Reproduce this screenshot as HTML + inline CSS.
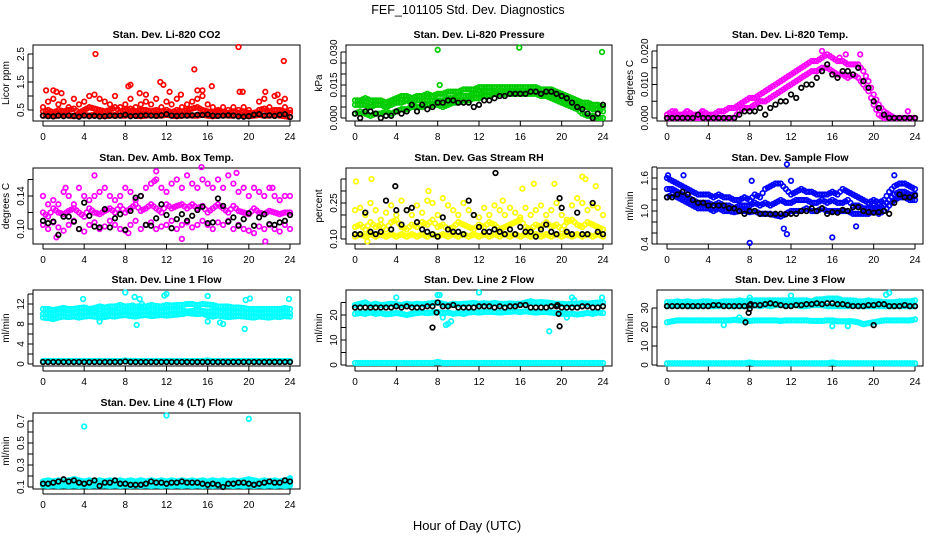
<!DOCTYPE html>
<html><head><meta charset="utf-8"><style>
html,body{margin:0;padding:0;background:#fff;}
svg{display:block;font-family:"Liberation Sans",Arial,sans-serif;}
</style></head><body>
<svg id="chart" width="936" height="540" viewBox="0 0 936 540" xmlns="http://www.w3.org/2000/svg">
<rect x="0" y="0" width="936" height="540" fill="#fff"/>
<text x="468" y="14" font-size="12.5" text-anchor="middle">FEF_101105  Std. Dev. Diagnostics</text>
<text x="467" y="530" font-size="13" text-anchor="middle">Hour of Day (UTC)</text>
<g id="panels"></g>
</svg>
<script>
const hours=[0,0.5,1,1.5,2,2.5,3,3.5,4,4.5,5,5.5,6,6.5,7,7.5,8,8.5,9,9.5,10,10.5,11,11.5,12,12.5,13,13.5,14,14.5,15,15.5,16,16.5,17,17.5,18,18.5,19,19.5,20,20.5,21,21.5,22,22.5,23,23.5,24];
const xTickLabels=[0,4,8,12,16,20,24];

const co2Hi=[0.6,0.8,0.9,0.7,0.8,0.6,0.9,0.7,0.8,1.0,1.05,0.9,0.8,0.7,1.0,0.6,0.7,0.9,0.6,0.7,0.8,0.7,0.9,0.6,0.8,0.7,0.9,0.6,0.7,0.8,0.9,1.0,0.7,0.6,0.5,0.6,0.5,0.6,0.5,0.6,0.5,0.4,0.8,0.9,0.6,1.0,0.8,0.6,0.5];
const co2Mid=[0.45,0.5,0.4,0.5,0.45,0.5,0.55,0.4,0.5,0.6,0.55,0.5,0.45,0.5,0.6,0.45,0.5,0.55,0.45,0.5,0.5,0.45,0.5,0.45,0.5,0.4,0.5,0.45,0.5,0.55,0.6,0.5,0.45,0.4,0.45,0.4,0.4,0.45,0.4,0.45,0.4,0.35,0.5,0.55,0.45,0.5,0.5,0.45,0.4];
const co2Lo=[0.3,0.32,0.28,0.3,0.33,0.3,0.28,0.3,0.32,0.3,0.33,0.3,0.28,0.3,0.32,0.3,0.3,0.33,0.3,0.28,0.3,0.32,0.3,0.3,0.33,0.3,0.28,0.3,0.32,0.3,0.3,0.33,0.3,0.28,0.3,0.32,0.3,0.3,0.33,0.3,0.28,0.3,0.32,0.3,0.3,0.33,0.3,0.28,0.25];
const co2Black=[0.3,0.28,0.27,0.3,0.28,0.3,0.29,0.26,0.3,0.28,0.29,0.27,0.28,0.3,0.29,0.3,0.33,0.28,0.29,0.3,0.31,0.3,0.29,0.31,0.35,0.3,0.29,0.3,0.3,0.31,0.33,0.32,0.34,0.3,0.29,0.3,0.31,0.3,0.27,0.26,0.28,0.33,0.35,0.3,0.31,0.29,0.33,0.35,0.25];
const co2Out=[[5.1,2.5],[19,2.75],[23.4,2.25],[14.7,1.95],[11.4,1.5],[8.5,1.4],[8.3,1.35],[16.4,1.35],[11.7,1.4],[15,1.2],[15.5,1.2],[19.1,1.15],[19.4,1.15],[0.3,1.2],[1,1.2],[1.3,1.15],[1.8,1.1],[9.4,1.1],[10,1.05],[12.3,1.15],[13.4,1.05],[21.6,1.15],[22.8,1.05],[23.5,0.9]];

const presHi=[0.008,0.008,0.009,0.008,0.008,0.008,0.007,0.008,0.009,0.010,0.010,0.009,0.010,0.010,0.011,0.010,0.011,0.011,0.012,0.012,0.012,0.013,0.013,0.013,0.014,0.014,0.014,0.014,0.014,0.014,0.014,0.014,0.014,0.014,0.014,0.014,0.013,0.013,0.013,0.012,0.011,0.010,0.009,0.008,0.007,0.007,0.006,0.006,0.005];
const presMid=[0.006,0.006,0.006,0.005,0.006,0.006,0.005,0.006,0.007,0.007,0.008,0.007,0.008,0.008,0.008,0.008,0.008,0.008,0.009,0.009,0.010,0.010,0.010,0.011,0.011,0.012,0.012,0.012,0.012,0.012,0.012,0.012,0.012,0.012,0.012,0.012,0.011,0.011,0.011,0.010,0.009,0.008,0.007,0.006,0.005,0.005,0.004,0.004,0.003];
const presLo=[0.002,0.003,0.002,0.001,0.002,0.002,0.003,0.002,0.003,0.004,0.004,0.005,0.005,0.005,0.006,0.006,0.006,0.005,0.006,0.007,0.007,0.008,0.008,0.009,0.009,0.010,0.010,0.011,0.011,0.011,0.011,0.011,0.011,0.011,0.011,0.011,0.010,0.010,0.009,0.008,0.007,0.006,0.005,0.004,0.002,0.001,0.001,0.000,0.000];
const presBlack=[0.002,0.000,0.003,0.003,0.002,0.000,0.001,0.001,0.003,0.002,0.003,0.006,0.003,0.006,0.004,0.005,0.007,0.007,0.008,0.008,0.007,0.007,0.007,0.005,0.006,0.008,0.008,0.009,0.010,0.010,0.011,0.011,0.011,0.011,0.012,0.012,0.011,0.012,0.012,0.011,0.010,0.009,0.007,0.005,0.004,0.002,0.000,0.002,0.006];
const presOut=[[8,0.031],[15.9,0.032],[23.9,0.030],[8.2,0.015]];

const tempHi=[0.001,0.002,0.001,0.001,0.002,0.001,0.001,0.002,0.001,0.001,0.002,0.002,0.003,0.003,0.004,0.005,0.006,0.006,0.007,0.008,0.009,0.010,0.011,0.012,0.013,0.014,0.015,0.016,0.017,0.017,0.018,0.019,0.018,0.017,0.017,0.016,0.016,0.016,0.014,0.011,0.007,0.004,0.002,0.001,0,0,0,0,0];
const tempLo=[0,0,0,0,0,0,0,0,0,0,0,0,0,0,0.002,0.003,0.003,0.004,0.005,0.005,0.006,0.007,0.008,0.009,0.010,0.011,0.012,0.013,0.014,0.014,0.015,0.015,0.014,0.013,0.013,0.012,0.013,0.012,0.010,0.008,0.004,0.001,0,0,0,0,0,0,0];
const tempBlack=[0,0,0,0,0,0,0.001,0,0,0,0,0,0,0,0.001,0.002,0.002,0.002,0.003,0.001,0.003,0.004,0.005,0.005,0.007,0.006,0.009,0.010,0.010,0.012,0.014,0.016,0.013,0.012,0.014,0.014,0.013,0.015,0.011,0.009,0.005,0.003,0.001,0,0,0,0,0,0];
const tempOut=[[15,0.02],[17.3,0.019],[18.7,0.019],[16.7,0.018],[3.4,0.002],[0.8,0.002],[1.9,0.002],[23.3,0.002]];

const ambHi=[0.14,0.13,0.135,0.13,0.145,0.14,0.13,0.15,0.14,0.135,0.14,0.145,0.15,0.14,0.135,0.14,0.15,0.145,0.135,0.14,0.15,0.155,0.16,0.15,0.145,0.155,0.16,0.15,0.165,0.155,0.15,0.16,0.155,0.15,0.16,0.15,0.165,0.155,0.145,0.15,0.14,0.15,0.145,0.14,0.15,0.14,0.135,0.14,0.14];
const ambMid=[0.12,0.115,0.125,0.12,0.118,0.122,0.125,0.12,0.115,0.125,0.12,0.118,0.122,0.125,0.12,0.128,0.12,0.125,0.13,0.122,0.125,0.13,0.125,0.12,0.13,0.125,0.128,0.13,0.125,0.13,0.125,0.128,0.12,0.125,0.13,0.125,0.12,0.128,0.122,0.12,0.118,0.125,0.12,0.118,0.122,0.12,0.118,0.12,0.12];
const ambLo=[0.105,0.1,0.108,0.102,0.098,0.105,0.11,0.1,0.097,0.105,0.108,0.1,0.103,0.11,0.105,0.1,0.098,0.105,0.11,0.1,0.105,0.108,0.1,0.103,0.105,0.11,0.1,0.105,0.108,0.102,0.105,0.11,0.105,0.1,0.108,0.105,0.11,0.1,0.105,0.1,0.098,0.095,0.103,0.1,0.105,0.1,0.097,0.105,0.1];
const ambBlack=[0.11,0.107,0.109,0.093,0.115,0.115,0.109,0.1,0.132,0.116,0.103,0.102,0.124,0.102,0.113,0.118,0.099,0.122,0.138,0.14,0.105,0.104,0.113,0.13,0.117,0.101,0.112,0.118,0.11,0.116,0.123,0.127,0.107,0.108,0.137,0.128,0.109,0.114,0.104,0.112,0.119,0.104,0.114,0.118,0.106,0.105,0.108,0.11,0.117];
const ambOut=[[5,0.165],[2.2,0.15],[13.5,0.088],[21.6,0.085],[15.4,0.175],[11,0.17],[22.3,0.15],[1.3,0.09],[8.3,0.095],[18.8,0.168],[10.8,0.158]];

const rhHi=[0.22,0.23,0.2,0.25,0.22,0.18,0.21,0.24,0.2,0.26,0.22,0.2,0.24,0.21,0.26,0.25,0.2,0.27,0.24,0.22,0.2,0.25,0.22,0.2,0.19,0.23,0.2,0.24,0.22,0.2,0.23,0.21,0.19,0.23,0.2,0.22,0.24,0.2,0.22,0.25,0.2,0.18,0.24,0.27,0.25,0.22,0.24,0.23,0.2];
const rhMid=[0.15,0.16,0.14,0.17,0.15,0.16,0.14,0.17,0.18,0.15,0.14,0.16,0.15,0.17,0.16,0.18,0.15,0.16,0.14,0.15,0.17,0.16,0.15,0.14,0.16,0.15,0.17,0.16,0.14,0.15,0.16,0.17,0.18,0.15,0.14,0.16,0.15,0.17,0.15,0.16,0.14,0.17,0.18,0.16,0.15,0.17,0.16,0.15,0.14];
const rhLo=[0.11,0.12,0.11,0.12,0.11,0.12,0.11,0.12,0.11,0.12,0.11,0.12,0.11,0.12,0.11,0.12,0.11,0.12,0.11,0.12,0.11,0.12,0.11,0.12,0.11,0.12,0.11,0.12,0.11,0.12,0.11,0.12,0.11,0.12,0.11,0.12,0.11,0.12,0.11,0.12,0.11,0.12,0.11,0.12,0.11,0.12,0.11,0.12,0.11];
const rhBlack=[0.12,0.12,0.21,0.13,0.12,0.13,0.26,0.14,0.22,0.16,0.22,0.23,0.17,0.14,0.13,0.12,0.11,0.19,0.14,0.13,0.13,0.12,0.26,0.2,0.15,0.13,0.13,0.14,0.13,0.12,0.14,0.12,0.15,0.13,0.13,0.11,0.14,0.16,0.13,0.12,0.23,0.13,0.12,0.21,0.12,0.12,0.25,0.13,0.12];
const rhOut=[[0.1,0.34],[1.6,0.35],[7.1,0.30],[17.3,0.33],[19.3,0.33],[22,0.36],[22.3,0.35],[23.3,0.32],[16.2,0.31],[14.3,0.26],[1.2,0.09]];
const rhBlackOut=[[13.6,0.375],[3.9,0.32],[19.8,0.27]];

const flowHi=[1.6,1.55,1.5,1.45,1.4,1.35,1.3,1.3,1.3,1.25,1.3,1.25,1.25,1.2,1.2,1.25,1.2,1.3,1.25,1.4,1.45,1.5,1.5,1.4,1.3,1.35,1.4,1.35,1.35,1.3,1.3,1.3,1.35,1.3,1.4,1.35,1.3,1.25,1.2,1.15,1.2,1.15,1.2,1.35,1.45,1.5,1.5,1.45,1.4];
const flowMid=[1.4,1.4,1.35,1.3,1.25,1.2,1.15,1.15,1.15,1.1,1.15,1.1,1.1,1.05,1.1,1.1,1.1,1.15,1.1,1.15,1.1,1.15,1.2,1.15,1.15,1.2,1.2,1.2,1.15,1.15,1.2,1.15,1.2,1.15,1.15,1.2,1.1,1.1,1.05,1.05,1.1,1.05,1.1,1.2,1.3,1.35,1.35,1.3,1.3];
const flowLo=[1.25,1.3,1.25,1.2,1.15,1.1,1.05,1.05,1.05,1.0,1.05,1.0,1.0,0.98,1.0,1.0,0.98,1.0,0.95,0.95,0.95,0.92,0.9,0.95,1.0,1.0,1.0,1.05,1.0,1.0,1.05,1.0,1.0,1.0,1.0,1.0,0.95,0.95,0.95,0.95,1.0,0.95,1.0,1.1,1.2,1.25,1.25,1.2,1.2];
const flowBlack=[1.25,1.25,1.3,1.35,1.3,1.2,1.15,1.15,1.1,1.1,1.1,1.1,1.05,1.05,1.0,0.95,1.0,1.0,0.95,0.95,0.94,0.95,0.95,0.94,0.95,0.95,1.0,1.0,1.05,1.0,1.05,0.95,0.98,0.97,1.02,1.0,1.07,1.07,1.0,0.98,0.97,0.98,1.0,0.95,1.15,1.3,1.25,1.25,1.28];
const flowOut=[[8,0.42],[16,0.52],[11.6,1.85],[11.6,0.58],[11.3,0.68],[12,1.55],[8.2,1.55],[18.3,0.72],[22,1.65],[0.1,1.65],[1.6,1.65]];

const l1Hi=[11,11,10.8,11,11.2,11,11,11.2,11.3,11,11.2,11.5,11.3,11.5,11.5,11.8,11.5,11.6,11.5,11.5,11.5,11.8,11.6,11.5,11.8,11.7,11.8,11.8,12,12,11.8,12,11.9,11.8,11.5,11.5,11.5,11.3,11.3,11.2,11,11,11,11,11,11,11,11.2,11];
const l1Mid=[10,10.2,10,10.3,10.2,10,10.2,10.5,10.3,10.5,10.6,10.2,10.5,10.8,10.3,10.5,10.8,10.5,10.7,10.6,10.5,10.8,10.6,10.5,10.6,10.7,10.8,10.7,10.5,10.6,10.8,10.6,10.5,10.6,10.4,10.3,10.5,10.3,10.4,10.3,10.2,10.3,10.1,10.2,10.3,10.1,10.2,10.2,10.1];
const l1Lo=[9.3,9.2,9.0,9.3,9.5,9.4,9.5,9.3,9.5,9.6,9.5,9.3,9.4,9.6,9.5,9.7,9.8,9.6,9.5,9.7,9.8,9.6,9.7,9.8,9.7,9.8,9.9,10,10.2,10.1,10,10.1,9.7,9.5,9.7,9.5,9.4,9.5,9.6,9.5,9.4,9.3,9.5,9.4,9.3,9.5,9.4,9.6,9.5];
const l1Base=[0.6,0.6,0.6,0.6,0.6,0.6,0.6,0.6,0.6,0.6,0.6,0.6,0.6,0.6,0.6,0.6,0.7,0.6,0.6,0.6,0.6,0.6,0.6,0.6,0.6,0.6,0.6,0.6,0.6,0.6,0.6,0.6,0.7,0.6,0.6,0.6,0.6,0.6,0.6,0.6,0.6,0.6,0.6,0.6,0.6,0.6,0.6,0.6,0.6];
const l1Black=[0.4,0.4,0.4,0.4,0.4,0.4,0.4,0.4,0.4,0.4,0.4,0.4,0.4,0.4,0.4,0.4,0.5,0.4,0.4,0.4,0.4,0.4,0.4,0.4,0.4,0.4,0.4,0.4,0.4,0.4,0.4,0.4,0.4,0.4,0.4,0.4,0.4,0.4,0.4,0.4,0.4,0.4,0.4,0.4,0.4,0.4,0.4,0.4,0.4];
const l1Out=[[8,14.3],[3.9,13],[8.9,13.4],[9.4,13],[12,14],[11.8,13.7],[16,13.6],[19.7,12.8],[20.1,13.1],[23.9,13],[9.2,11.5],[8.7,11.7],[9.1,7.8],[5.5,8.5],[16,8.5],[17.2,8.3],[17.5,8],[19.6,7],[9.6,12]];

const l2Hi=[24,24.5,25,24,24.5,24,24.2,24.5,24.3,24,24.5,24.2,24.5,24.3,24.5,24.8,25,24.5,24,24.5,24.3,24.5,24.6,24.8,24.5,24.7,24.5,24.8,24.5,24.5,24.6,24.5,24.5,25,25.5,25,25.2,25,24.8,24.5,24.5,24.3,24.5,24.5,24.8,24.5,24.8,25,25];
const l2Lo=[20.5,20.8,20.5,21,20.5,20.8,20.3,20.5,20.8,20.5,20,20.5,20.8,21,20.8,21,21.2,20.8,21,20.5,20.8,20.5,21,21.2,21,21.2,21.3,21.2,21,21.2,21.3,21.5,21.2,21.5,21.2,21,21.2,21.2,21,20.8,20.8,20.5,20.5,20.2,20.5,20.8,20.5,21,20.8];
const l2Base=[0.8,0.8,0.8,0.8,0.8,0.8,0.8,0.8,0.8,0.8,0.8,0.8,0.8,0.8,0.8,0.8,1.2,0.8,0.8,0.8,0.8,0.8,0.8,0.8,0.8,0.8,0.8,0.8,0.8,0.8,0.8,0.8,0.8,0.8,0.8,0.8,0.8,0.8,0.8,0.8,0.8,0.8,0.8,0.8,0.8,0.8,0.8,0.8,0.8];
const l2Black=[23,23,23,23,23,23,23,23,23.5,23,23.5,23,23,23,23.5,23.5,25,23.5,23.5,24,23,23,23,23,23.5,23.5,23.5,23,23.5,23,23.5,23.5,24,24,23,23,23,23,23.5,23.5,23,23,23,23,23.5,23.5,23,23,23.5];
const l2Out=[[4,27],[8,28],[8.2,28],[12,29],[20,20.5],[21,27],[21.2,26],[23.9,27],[8.8,16],[9,16.5],[9.3,17.5],[18.8,13.5],[20.5,19],[8.5,19]];
const l2BlackOut=[[7.5,15],[7.9,21],[19.8,15.5],[19.7,20.5],[19.6,24]];

const l3Hi=[33,33,33.5,33,33.5,33,33,33.5,33.5,33,33,33.5,33.5,33.5,34,33.5,34,34,34,34,34,34,34,34,34,34,34,34,33.5,34.5,34.5,35,35,35,34,34,34,33.5,33.5,34,33.5,33.5,33,33,33,33.5,33.5,33.5,34];
const l3Mid=[31,31.5,31,31.5,31,31,31,31.5,31,31,31,31.5,31,31,31,31,31,31.5,31,31.5,31,31.5,31.5,31.5,31.5,31.5,31,31,31.5,31.5,31.5,31,31,31,31,31,31.5,31,31,31,31,31,31,31,31,31,31,31,31];
const l3Lo=[22.5,23,23.5,23.5,23.5,23.5,23.5,23.5,23.5,23.5,23.5,23.5,23.5,23.8,23.5,23.5,23.2,23.5,23.5,23.5,23.5,23.5,23.2,23.5,23.5,23.5,23.5,23.5,23.2,23.2,23.2,23.5,23.5,23,23,23,23,22.5,21.5,22,22.5,23,23.5,23.5,23.5,23.5,23.5,23.5,24];
const l3Base=[0.9,0.9,0.9,0.9,0.9,0.9,0.9,0.9,0.9,0.9,0.9,0.9,0.9,0.9,0.9,0.9,1.3,0.9,0.9,0.9,0.9,0.9,0.9,0.9,0.9,0.9,0.9,0.9,0.9,0.9,0.9,0.9,1.3,0.9,0.9,0.9,0.9,0.9,0.9,0.9,0.9,0.9,0.9,0.9,0.9,0.9,0.9,0.9,0.9];
const l3Black=[31,31,31,31,31,31,31,31,31,31.5,31.5,31,31,31,31,31,31.5,31.5,31.5,32,32.5,32,31.5,31,31,31.5,31.5,32,32,32.5,32,32.5,32.5,32,32,31.5,31,31,31,31.5,31.5,32,32,31,31,31,31.5,31,31];
const l3Out=[[8,35.5],[12,36.5],[21.2,37],[21.5,38],[5.5,21],[7,25],[16,20.5],[17.7,23],[17.5,20.5]];
const l3BlackOut=[[7.6,22.5],[7.9,27.5],[8,29.5],[20,21],[8.1,32]];

const l4Hi=[0.15,0.16,0.15,0.16,0.15,0.16,0.17,0.16,0.15,0.16,0.15,0.16,0.15,0.16,0.15,0.16,0.15,0.16,0.15,0.16,0.15,0.16,0.15,0.16,0.15,0.16,0.15,0.16,0.15,0.16,0.15,0.16,0.15,0.16,0.15,0.16,0.15,0.16,0.15,0.16,0.17,0.16,0.15,0.16,0.15,0.16,0.15,0.16,0.17];
const l4Mid=[0.13,0.12,0.13,0.12,0.13,0.12,0.13,0.12,0.13,0.12,0.13,0.12,0.13,0.12,0.13,0.12,0.13,0.12,0.13,0.12,0.13,0.12,0.13,0.12,0.13,0.12,0.13,0.12,0.13,0.12,0.13,0.12,0.13,0.12,0.13,0.12,0.13,0.12,0.13,0.12,0.13,0.12,0.13,0.12,0.13,0.12,0.13,0.12,0.13];
const l4Lo=[0.115,0.11,0.115,0.11,0.115,0.11,0.115,0.11,0.115,0.11,0.115,0.11,0.115,0.11,0.115,0.11,0.115,0.11,0.115,0.11,0.115,0.11,0.115,0.11,0.115,0.11,0.115,0.11,0.115,0.11,0.115,0.11,0.115,0.11,0.115,0.11,0.115,0.11,0.115,0.11,0.115,0.11,0.115,0.11,0.115,0.11,0.115,0.11,0.115];
const l4Black=[0.13,0.13,0.14,0.15,0.17,0.15,0.16,0.14,0.13,0.14,0.16,0.11,0.14,0.14,0.16,0.13,0.13,0.12,0.12,0.12,0.13,0.15,0.14,0.14,0.13,0.14,0.14,0.15,0.14,0.14,0.14,0.13,0.12,0.13,0.12,0.10,0.13,0.13,0.14,0.14,0.13,0.12,0.13,0.14,0.15,0.14,0.14,0.16,0.15];
const l4Out=[[4,0.65],[12,0.75],[20,0.72],[3.1,0.17],[24,0.18]];

const NS="http://www.w3.org/2000/svg";
const root=document.getElementById('panels');
function mk(tag,attrs,parent){const e=document.createElementNS(NS,tag);for(const k in attrs)e.setAttribute(k,attrs[k]);(parent||root).appendChild(e);return e;}

const cols=[{bl:33,br:300,x0:43,x24:290},{bl:346,br:612,x0:355,x24:603},{bl:657,br:923,x0:667,x24:915}];
const rows=[{bt:45,bb:121},{bt:168,bb:244},{bt:290,bb:366},{bt:413,bb:489}];

function panel(cfg){
  const c=cols[cfg.col],r=rows[cfg.row];
  const g=mk('g',{});
  
  
  const xs=h=>c.x0+(h/24)*(c.x24-c.x0);
  const ys=v=>cfg.p0+(v-cfg.v0)/(cfg.v1-cfg.v0)*(cfg.p1-cfg.p0);
  const t=mk('text',{x:(c.bl+c.br)/2,y:r.bt-7,'font-size':10.5,'font-weight':'bold','text-anchor':'middle'},g);
  t.textContent=cfg.title;
  
  
  const box=mk('rect',{x:c.bl,y:r.bt,width:c.br-c.bl,height:r.bb-r.bt,fill:'none',stroke:'#000','stroke-width':1},g);
  
  
  xTickLabels.forEach(h=>{
    const x=xs(h);
    mk('line',{x1:x,x2:x,y1:r.bb,y2:r.bb+5,stroke:'#000'},g);
    const tl=mk('text',{x:x,y:r.bb+19,'font-size':10,'text-anchor':'middle'},g);
    tl.textContent=h;
    
    
  });
  mk('line',{x1:xs(0),x2:xs(24),y1:r.bb+5,y2:r.bb+5,stroke:'#000'},g);
  const yl=c.bl-5;
  const yt=cfg.ticks.map(ys);
  mk('line',{x1:yl,x2:yl,y1:Math.min(...yt),y2:Math.max(...yt),stroke:'#000'},g);
  cfg.ticks.forEach(v=>{const y=ys(v);mk('line',{x1:yl,x2:c.bl,y1:y,y2:y,stroke:'#000'},g);});
  cfg.labels.forEach((lab,i)=>{
    const y=ys(cfg.labelVals[i]);
    const tl=mk('text',{x:0,y:0,'font-size':10,'text-anchor':'middle',transform:`translate(${yl-4},${y}) rotate(-90)`},g);
    tl.textContent=lab;
    
    
  });
  const yt2=mk('text',{x:0,y:0,'font-size':10,'text-anchor':'middle',transform:`translate(${c.bl-24},${(r.bt+r.bb)/2}) rotate(-90)`},g);
  yt2.textContent=cfg.ylab;
  
  
  const pg=mk('g',{fill:'none','stroke-width':1.7},g);
  function pt(h,v,col){
    const e=mk('circle',{cx:xs(h).toFixed(1),cy:ys(v).toFixed(1),r:2.3,stroke:col},pg);
    
    
  }
  cfg.series.forEach(s=>{
    if(s.vals) s.vals.forEach((v,i)=>{pt(hours[i],v,s.color); if(s.dense && i<hours.length-1) pt(hours[i]+0.25,(v+s.vals[i+1])/2,s.color);});
    if(s.pairs) s.pairs.forEach(p=>pt(p[0],p[1],s.color));
  });
}

const RED='#ff0000',GRN='#00cd00',MAG='#ff00ff',YEL='#ffff00',BLU='#0000ff',CY='#00ffff',BLK='#000000';
panel({name:'panel-co2',col:0,row:0,title:'Stan. Dev. Li-820 CO2',ylab:'Licor ppm',v0:0.5,p0:110,v1:2.5,p1:54,ticks:[0.5,1,1.5,2,2.5],labels:['0.5','1.5','2.5'],labelVals:[0.5,1.5,2.5],
  series:[{vals:co2Hi,color:RED},{vals:co2Mid,color:RED,dense:true},{vals:co2Lo,color:RED,dense:true},{pairs:co2Out,color:RED},{vals:co2Black,color:BLK}]});
panel({name:'panel-pressure',col:1,row:0,title:'Stan. Dev. Li-820 Pressure',ylab:'kPa',v0:0,p0:118,v1:0.03,p1:52,ticks:[0,0.005,0.01,0.015,0.02,0.025,0.03],labels:['0.000','0.015','0.030'],labelVals:[0,0.015,0.03],
  series:[{vals:presHi,color:GRN,dense:true},{vals:presMid,color:GRN,dense:true},{vals:presLo,color:GRN,dense:true},{pairs:presOut,color:GRN},{vals:presBlack,color:BLK}]});
panel({name:'panel-temp',col:2,row:0,title:'Stan. Dev. Li-820 Temp.',ylab:'degrees C',v0:0,p0:118,v1:0.02,p1:51,ticks:[0,0.005,0.01,0.015,0.02],labels:['0.000','0.010','0.020'],labelVals:[0,0.01,0.02],
  series:[{vals:tempHi,color:MAG,dense:true},{vals:tempLo,color:MAG,dense:true},{pairs:tempOut,color:MAG},{vals:tempBlack,color:BLK}]});
panel({name:'panel-amb-box-temp',col:0,row:1,title:'Stan. Dev. Amb. Box Temp.',ylab:'degrees C',v0:0.10,p0:229,v1:0.14,p1:196,ticks:[0.10,0.12,0.14,0.16],labels:['0.10','0.14'],labelVals:[0.10,0.14],
  series:[{vals:ambHi,color:MAG},{vals:ambMid,color:MAG,dense:true},{vals:ambLo,color:MAG},{pairs:ambOut,color:MAG},{vals:ambBlack,color:BLK}]});
panel({name:'panel-gas-rh',col:1,row:1,title:'Stan. Dev. Gas Stream RH',ylab:'percent',v0:0.10,p0:239,v1:0.25,p1:203,ticks:[0.10,0.15,0.20,0.25,0.30,0.35],labels:['0.10','0.25'],labelVals:[0.10,0.25],
  series:[{vals:rhHi,color:YEL},{vals:rhMid,color:YEL,dense:true},{vals:rhLo,color:YEL,dense:true},{pairs:rhOut,color:YEL},{vals:rhBlack,color:BLK},{pairs:rhBlackOut,color:BLK}]});
panel({name:'panel-sample-flow',col:2,row:1,title:'Stan. Dev. Sample Flow',ylab:'ml/min',v0:0.4,p0:244,v1:1.6,p1:178,ticks:[0.4,0.6,0.8,1.0,1.2,1.4,1.6,1.8],labels:['0.4','1.0','1.6'],labelVals:[0.4,1.0,1.6],
  series:[{vals:flowHi,color:BLU,dense:true},{vals:flowMid,color:BLU,dense:true},{vals:flowLo,color:BLU,dense:true},{pairs:flowOut,color:BLU},{vals:flowBlack,color:BLK}]});
panel({name:'panel-line1-flow',col:0,row:2,title:'Stan. Dev. Line 1 Flow',ylab:'ml/min',v0:0,p0:364,v1:12,p1:304,ticks:[0,2,4,6,8,10,12,14],labels:['0','4','8','12'],labelVals:[0,4,8,12],
  series:[{vals:l1Hi,color:CY,dense:true},{vals:l1Mid,color:CY,dense:true},{vals:l1Lo,color:CY,dense:true},{vals:l1Base,color:CY,dense:true},{pairs:l1Out,color:CY},{vals:l1Black,color:BLK}]});
panel({name:'panel-line2-flow',col:1,row:2,title:'Stan. Dev. Line 2 Flow',ylab:'ml/min',v0:0,p0:365,v1:20,p1:315,ticks:[0,5,10,15,20,25],labels:['0','10','20'],labelVals:[0,10,20],
  series:[{vals:l2Hi,color:CY,dense:true},{vals:l2Lo,color:CY,dense:true},{vals:l2Base,color:CY,dense:true},{pairs:l2Out,color:CY},{vals:l2Black,color:BLK},{pairs:l2BlackOut,color:BLK}]});
panel({name:'panel-line3-flow',col:2,row:2,title:'Stan. Dev. Line 3 Flow',ylab:'ml/min',v0:0,p0:365,v1:30,p1:308,ticks:[0,10,20,30],labels:['0','10','20','30'],labelVals:[0,10,20,30],
  series:[{vals:l3Hi,color:CY,dense:true},{vals:l3Mid,color:CY,dense:true},{vals:l3Lo,color:CY,dense:true},{vals:l3Base,color:CY,dense:true},{pairs:l3Out,color:CY},{vals:l3Black,color:BLK},{pairs:l3BlackOut,color:BLK}]});
panel({name:'panel-line4-flow',col:0,row:3,title:'Stan. Dev. Line 4 (LT) Flow',ylab:'ml/min',v0:0.1,p0:487,v1:0.7,p1:421,ticks:[0.1,0.2,0.3,0.4,0.5,0.6,0.7],labels:['0.1','0.3','0.5','0.7'],labelVals:[0.1,0.3,0.5,0.7],
  series:[{vals:l4Hi,color:CY,dense:true},{vals:l4Mid,color:CY,dense:true},{vals:l4Lo,color:CY,dense:true},{pairs:l4Out,color:CY},{vals:l4Black,color:BLK}]});
</script>
</body></html>
